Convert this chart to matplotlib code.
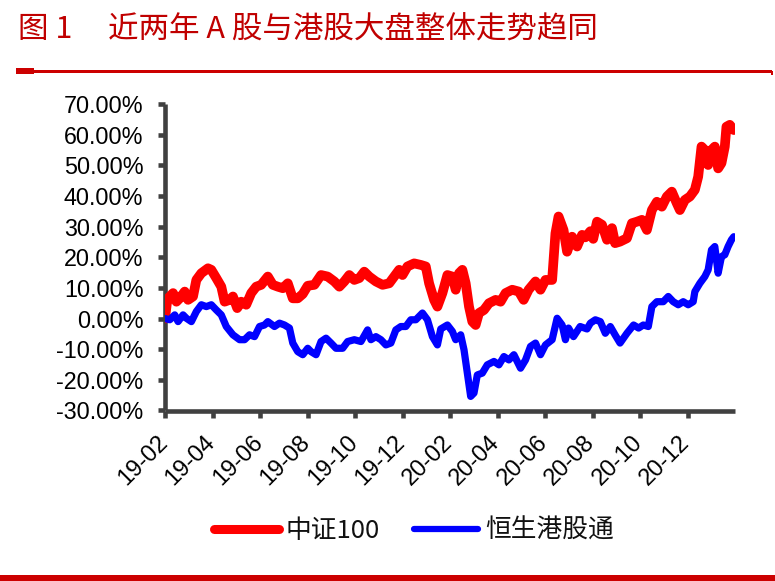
import matplotlib
matplotlib.use("Agg")
import matplotlib.pyplot as plt
from matplotlib.patches import Rectangle
from matplotlib.transforms import ScaledTranslation
from matplotlib.ticker import FixedLocator, FuncFormatter

# ---- data (x = months since 2019-02, values in %) ----
csi100_x = [0.0, 0.08, 0.13, 0.34, 0.48, 0.62, 0.83, 0.97, 1.18, 1.32, 1.53, 1.81, 1.95, 2.16, 2.37,
            2.51, 2.72, 2.86, 3.04, 3.21, 3.42, 3.63, 3.84, 4.05, 4.33, 4.54, 4.75, 4.96, 5.17, 5.38,
            5.59, 5.80, 6.01, 6.29, 6.57, 6.85, 7.13, 7.34, 7.55, 7.76, 7.97, 8.18, 8.39, 8.60, 8.88,
            9.16, 9.44, 9.65, 9.86, 10.00, 10.21, 10.49, 10.77, 10.98, 11.12, 11.33, 11.47, 11.68,
            11.89, 12.10, 12.24, 12.38, 12.52, 12.66, 12.80, 12.94, 13.08, 13.22, 13.43, 13.64, 13.92,
            14.13, 14.34, 14.62, 14.90, 15.10, 15.31, 15.60, 15.81, 16.02, 16.30, 16.44, 16.57, 16.78,
            16.93, 17.14, 17.35, 17.56, 17.70, 17.91, 18.03, 18.19, 18.40, 18.61, 18.82, 18.95, 19.16,
            19.45, 19.66, 19.87, 20.08, 20.29, 20.50, 20.71, 20.92, 21.13, 21.34, 21.55, 21.68, 21.89,
            22.10, 22.31, 22.45, 22.59, 22.73, 22.87, 23.01, 23.15, 23.29, 23.43, 23.57, 23.64, 23.78,
            23.95]
csi100_y = [0.0, 5.0, 6.6, 8.3, 5.5, 6.6, 8.8, 6.1, 7.2, 12.6, 14.8, 16.4, 15.9, 13.2, 10.4,
            5.5, 6.1, 7.2, 3.4, 5.5, 4.5, 8.3, 10.4, 11.0, 13.7, 11.0, 10.4, 9.9, 11.5, 6.6,
            6.6, 8.0, 10.7, 11.0, 14.2, 13.7, 12.1, 10.4, 12.1, 14.2, 12.6, 13.2, 15.3, 13.7, 12.1,
            11.0, 11.5, 13.7, 15.9, 14.2, 17.0, 18.0, 17.5, 17.0, 11.5, 6.1, 3.9, 8.3,
            14.2, 13.7, 9.4, 14.8, 15.9, 11.5, 3.9, -1.0, -2.1, 1.8, 2.8, 5.0, 6.1,
            5.5, 8.3, 9.4, 8.8, 6.1, 9.4, 12.1, 9.4, 12.6, 12.6, 27.8, 33.3, 28.9,
            21.8, 26.7, 23.5, 27.3, 26.5, 28.5, 26.0, 31.6, 30.6, 25.7, 29.5, 24.6, 25.1,
            26.2, 31.1, 31.6, 32.2, 28.9, 35.4, 38.1, 36.5, 39.8, 41.4, 37.6, 35.4, 38.7,
            39.8, 42.0, 46.3, 56.1, 55.0, 50.1, 55.0, 56.1, 49.0, 50.7, 56.1, 62.6, 63.2,
            61.5]

hsci_x = [0.0, 0.20, 0.41, 0.55, 0.76, 0.90, 1.11, 1.32, 1.53, 1.74, 1.95, 2.16, 2.37, 2.58, 2.86,
          3.14, 3.35, 3.56, 3.77, 3.98, 4.19, 4.33, 4.61, 4.82, 5.03, 5.24, 5.38, 5.59, 5.80, 6.01,
          6.15, 6.36, 6.57, 6.78, 6.99, 7.20, 7.48, 7.69, 7.97, 8.25, 8.53, 8.67, 8.88, 9.09, 9.30,
          9.51, 9.72, 9.93, 10.14, 10.35, 10.56, 10.84, 11.05, 11.26, 11.47, 11.61, 11.89, 12.10,
          12.24, 12.45, 12.59, 12.73, 12.87, 13.01, 13.15, 13.36, 13.57, 13.85, 14.06, 14.27, 14.48,
          14.69, 14.97, 15.18, 15.39, 15.60, 15.81, 16.02, 16.30, 16.51, 16.72, 16.86, 16.99, 17.20,
          17.48, 17.77, 17.91, 18.12, 18.33, 18.54, 18.75, 18.95, 19.16, 19.45, 19.73, 19.94, 20.14,
          20.35, 20.50, 20.71, 20.98, 21.19, 21.40, 21.61, 21.82, 22.03, 22.24, 22.31, 22.52, 22.73,
          22.87, 23.01, 23.15, 23.29, 23.43, 23.57, 23.71, 23.85, 23.95]
hsci_y = [0.0, -0.4, 1.2, -1.0, 1.2, 0.1, -1.0, 2.3, 4.5, 3.9, 4.5, 2.8, 1.2, -2.6, -5.3,
          -6.9, -6.9, -5.3, -5.9, -2.6, -2.1, -1.0, -2.6, -1.5, -2.1, -3.1, -8.0, -10.8, -11.8, -9.7,
          -10.8, -11.8, -7.5, -6.4, -8.0, -9.7, -9.7, -7.5, -6.9, -7.5, -3.7, -6.9, -5.9, -6.9, -8.6,
          -8.0, -3.7, -2.6, -2.6, -0.4, -0.4, 1.8, -0.4, -5.9, -8.6, -3.4, -2.1, -4.2,
          -6.9, -5.3, -10.2, -17.8, -25.4, -24.3, -18.4, -17.8, -15.1, -14.0, -15.1, -12.4, -13.5,
          -11.8, -16.2, -13.5, -9.1, -8.0, -11.8, -8.6, -6.9, 0.1, -2.1, -6.9, -3.1, -5.9,
          -2.6, -3.4, -1.5, -0.4, -1.0, -4.8, -2.6, -5.3, -8.0, -4.8, -2.1, -3.1, -2.1,
          -2.6, 3.9, 5.5, 5.5, 7.2, 5.5, 4.5, 5.5, 4.5, 5.5, 8.8, 11.5, 13.7,
          15.9, 22.4, 23.5, 14.8, 20.2, 20.8, 23.5, 25.7, 26.7]

tick_pos = [0, 2, 4, 6, 8, 10, 12, 14, 16, 18, 20, 22]
tick_labels = ["19-02", "19-04", "19-06", "19-08", "19-10", "19-12",
               "20-02", "20-04", "20-06", "20-08", "20-10", "20-12"]
y_ticks = [-30, -20, -10, 0, 10, 20, 30, 40, 50, 60, 70]
series_names = ["中证100", "恒生港股通"]
title_num = "图 1"
title_text = "近两年 A 股与港股大盘整体走势趋同"

# ---- figure ----
W, H, DPI = 775, 581, 100
fig = plt.figure(figsize=(W / DPI, H / DPI), dpi=DPI)
fig.patch.set_facecolor("white")

ax = fig.add_axes([165 / W, 1 - 410.5 / H, (735 - 165) / W, (410.5 - 104) / H])
ax.set_facecolor("white")

ax.plot(csi100_x, csi100_y, color="#FF0000", lw=7.0, solid_joinstyle="round",
        solid_capstyle="round", label=series_names[0], zorder=3)
ax.plot(hsci_x, hsci_y, color="#0000FF", lw=5.2, solid_joinstyle="round",
        solid_capstyle="round", label=series_names[1], zorder=3)

ax.set_xlim(0, 24)
ax.set_ylim(-30, 70)

spine_c = "#404040"
for s in ("top", "right"):
    ax.spines[s].set_visible(False)
for s in ("left", "bottom"):
    ax.spines[s].set_color(spine_c)
    ax.spines[s].set_linewidth(3.3)
    ax.spines[s].set_capstyle("butt")

ax.yaxis.set_major_locator(FixedLocator(y_ticks))
ax.yaxis.set_major_formatter(FuncFormatter(lambda v, p: f"{v:.2f}%"))
ax.xaxis.set_major_locator(FixedLocator(tick_pos))
ax.set_xticklabels(tick_labels, rotation=45, ha="right", va="top",
                   fontsize=17, family="Liberation Sans")
ax.tick_params(axis="y", direction="out", length=5.0, width=3.3, color=spine_c,
               pad=10.5, labelsize=16.8, labelcolor="black")
ax.tick_params(axis="x", direction="out", length=5.3, width=3.3, color=spine_c,
               pad=10.0, labelcolor="black")
for lab in ax.get_yticklabels():
    lab.set_family("Liberation Sans")

offset = ScaledTranslation(7 / DPI, 0, fig.dpi_scale_trans)
for lab in ax.get_xticklabels():
    lab.set_transform(lab.get_transform() + offset)

# ---- legend ----
leg = fig.legend(loc="center", bbox_to_anchor=(414 / W, 1 - 531 / H), ncol=2,
                 frameon=False, prop={"family": ["Noto Sans CJK SC", "DejaVu Sans"], "size": 18.5},
                 handlelength=2.5, handletextpad=0.25, columnspacing=1.35)
for t in leg.get_texts():
    t.set_color("#111111")
for h, w in zip(leg.get_lines(), [6.5, 4.5]):
    h.set_linewidth(w)

# ---- title and decorations ----
title_c = "#C00000"
fig.text(18 / W, 1 - 30 / H, title_num, ha="left", va="center", color=title_c,
         fontsize=22, family=["Noto Sans CJK SC", "DejaVu Sans"])
fig.text(108 / W, 1 - 30 / H, title_text, ha="left", va="center", color=title_c,
         fontsize=22, family=["Noto Sans CJK SC", "DejaVu Sans"])

rule_c = "#CC0000"
fig.add_artist(Rectangle((16 / W, 1 - 74 / H), 18 / W, 6 / H, transform=fig.transFigure,
                         color=rule_c, lw=0))
fig.add_artist(Rectangle((34 / W, 1 - 72.5 / H), (772 - 34) / W, 2.5 / H,
                         transform=fig.transFigure, color=rule_c, lw=0))
fig.add_artist(Rectangle((771 / W, 1 - 75 / H), 1.5 / W, 4 / H, transform=fig.transFigure,
                         color=rule_c, lw=0))
fig.add_artist(Rectangle((0, 0), 1, 6 / H, transform=fig.transFigure, color=rule_c, lw=0))

fig.savefig("out.png", dpi=DPI, facecolor="white")
